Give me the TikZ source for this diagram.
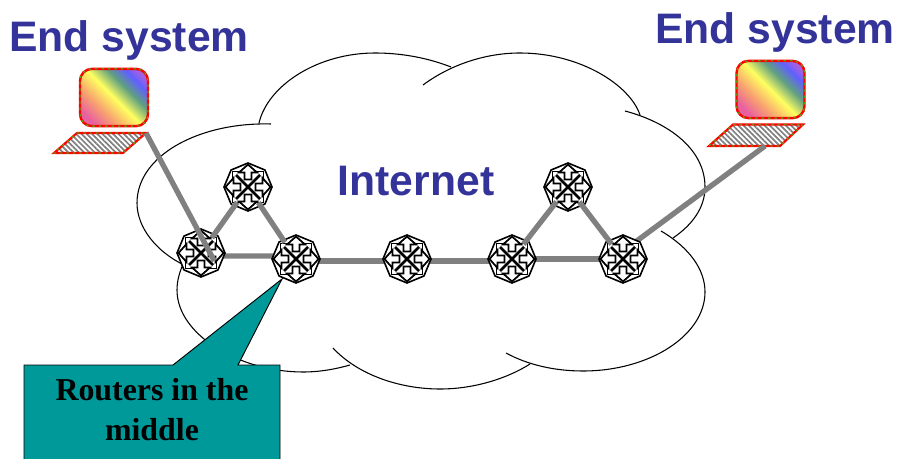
\documentclass[tikz,border=0pt]{standalone}
\usepackage{xcolor}
\usepackage{fontspec}
\setmainfont{Liberation Serif}
\setsansfont{Liberation Sans}
\usetikzlibrary{patterns.meta,shapes.geometric}
\definecolor{rbpink}{HTML}{E860A0}
\definecolor{rbsalmon}{HTML}{F8A070}
\definecolor{rbyellow}{HTML}{FFFF60}
\definecolor{rbgreen}{HTML}{60A080}
\definecolor{rbblue}{HTML}{6060FF}
\definecolor{rbviolet}{HTML}{A060E0}
\pgfdeclarehorizontalshading{myrainbow}{100bp}{color(0bp)=(rbpink);color(24bp)=(rbpink);color(36bp)=(rbsalmon);color(50bp)=(rbyellow);color(62bp)=(rbgreen);color(72bp)=(rbblue);color(78bp)=(rbviolet);color(100bp)=(rbviolet)}
\begin{document}
\begin{tikzpicture}[x=0.75pt,y=-0.75pt,
  myrouter/.style={regular polygon,regular polygon sides=8,shape border rotate=22.5,minimum size=36pt,inner sep=0pt,draw,fill=white,line width=1.2pt},
  mymonitor/.style={rectangle,rounded corners=9pt,minimum width=51pt,minimum height=43pt,inner sep=0pt,shading=myrainbow,shading angle=45,draw=red,line width=1.8pt,
    postaction={draw=dashgreen,line width=1pt,dash pattern=on 1.8pt off 3pt}},
  mykeys/.style={pattern={Lines[angle=-45,distance=2.8pt,line width=1.3pt]},pattern color=gray,draw=red,line width=1.6pt,
    postaction={draw=dashgreen,line width=0.9pt,dash pattern=on 1.8pt off 3pt}},
  mylink/.style={draw=linkgray,line width=4pt},
  mytitle/.style={font=\sffamily\bfseries\fontsize{32}{36}\selectfont,text=titleblue}]
\definecolor{titleblue}{HTML}{333399}
\definecolor{linkgray}{HTML}{808080}
\definecolor{calloutteal}{HTML}{009999}
\definecolor{dashgreen}{HTML}{669900}
\clip (0,0) rectangle (898,459);
\draw[line width=0.8pt] (259,123) .. controls (268,85) and (318,53) .. (375,53) .. controls (402,53) and (428,58) .. (451,67);
\draw[line width=0.8pt] (423,85) .. controls (450,65) and (485,53) .. (520,53) .. controls (580,53) and (630,85) .. (640,115);
\draw[line width=0.8pt] (625,111) .. controls (670,123) and (705,150) .. (705,187) .. controls (705,208) and (692,225) .. (673,238);
\draw[line width=0.8pt] (661,231) .. controls (690,248) and (705,270) .. (705,292) .. controls (705,335) and (650,371) .. (583,371) .. controls (555,371) and (528,365) .. (506,353);
\draw[line width=0.8pt] (333,348) .. controls (358,375) and (400,389) .. (440,389) .. controls (475,389) and (508,378) .. (530,364);
\draw[line width=0.8pt] (185,260) .. controls (180,270) and (177,280) .. (177,290) .. controls (177,335) and (240,372) .. (303,372) .. controls (320,372) and (336,369) .. (350,365);
\draw[line width=0.8pt] (271,124) .. controls (200,122) and (137,155) .. (137,203) .. controls (137,228) and (157,252) .. (184,265);
\node [mymonitor] (pcL) at (114,97.5) {};
\node [mymonitor] (pcR) at (770.5,89.5) {};
\draw [mykeys] (77,133) coordinate (keysLa) -- (146,133) coordinate (keysL) -- (123,153) -- (54,153) -- cycle;
\draw [mykeys] (733,124.5) coordinate (keysRa) -- (803,124.5) -- (780,146) coordinate (keysRb) -- (709,146) -- cycle;
\coordinate (keysR) at (765,146);
\foreach \rtr/\xx/\yy in {rA/201/253,rB/248/187,rC/296/259,rD/407/259,rE/512/259,rF/568/187,rG/623/259}
  {\coordinate (\rtr c) at (\xx,\yy);}
\draw [mylink] ([yshift=-2.2pt]rAc) -- ([yshift=2.2pt]rCc);
\draw [mylink] ([yshift=-1.5pt]rCc) -- ([yshift=-1.5pt]rDc) -- ([yshift=-1.5pt]rEc);
\draw [mylink] (rEc) -- (rGc);
\draw [mylink] (keysR) -- ([xshift=1.5pt,yshift=7pt]rGc);
\foreach \rtr/\xx/\yy in {rA/201/253,rB/248/187,rC/296/259,rD/407/259,rE/512/259,rF/568/187,rG/623/259}
  {\node [myrouter] (\rtr) at (\xx,\yy) {};
   \foreach \ang in {0,90,180,270}
     {\begin{scope}[shift={(\rtr.center)},rotate=\ang]
       \draw[line width=2pt] (0,0) -- (12,12);
       \draw[line width=1.3pt,fill=white] (0,-22.5) -- (-9,-14.5) -- (-3.5,-14.5) -- (-3.5,-7.5) -- (3.5,-7.5) -- (3.5,-14.5) -- (9,-14.5) -- cycle;
       \draw[line width=1.3pt] (-15.5,-7) -- (-15.5,-15.5) -- (-7,-15.5);
     \end{scope}}}
\draw [mylink,shorten <=14pt,shorten >=14pt] (rB.center) -- (rA.center);
\draw [mylink,shorten <=14pt,shorten >=15pt] (rB.center) -- (rC.center);
\draw [mylink,shorten <=14pt,shorten >=14pt] (rF.center) -- (rE.center);
\draw [mylink,shorten <=14pt,shorten >=14pt] (rF.center) -- (rG.center);
\draw [mylink] (keysL) -- ([xshift=10pt,yshift=-6pt]rA.center);
\node [mytitle] (titleL) at (129,40) {End system};
\node [mytitle] (titleR) at (775,32) {End system};
\node [mytitle] (cloudname) at (416,181) {Internet};
\filldraw [fill=calloutteal,draw=black,line width=0.7pt] (24,365) -- (173,365) -- (282,279) -- (238,365) -- (280,365) -- (280,470) -- (24,470) -- cycle;
\node [font=\bfseries\fontsize{23.9}{30}\selectfont,align=center] (rtrnote) at (152,410) {Routers in the\\middle};
\end{tikzpicture}
\end{document}
